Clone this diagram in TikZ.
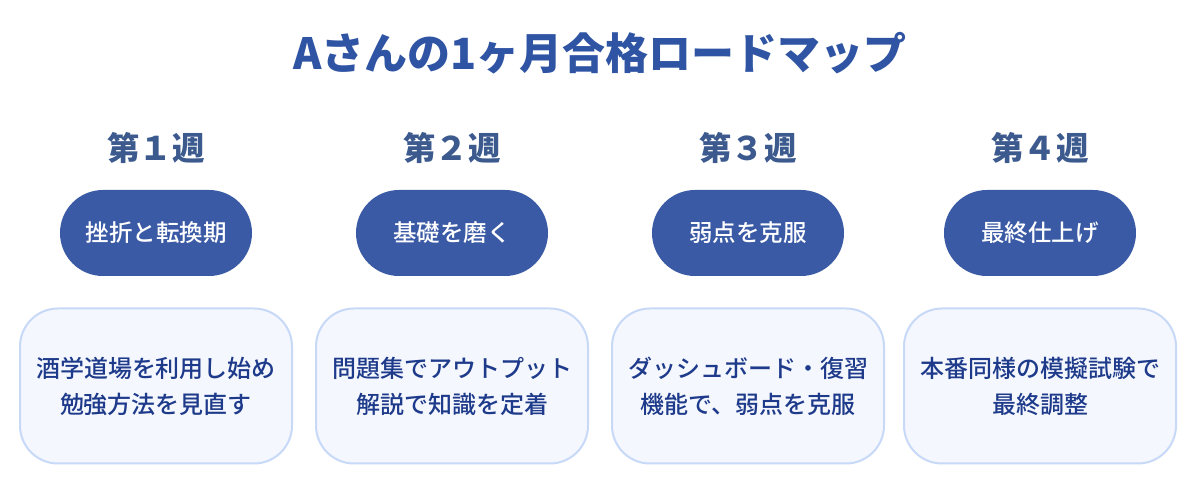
\documentclass[tikz,border=0pt]{standalone}
\usepackage{fontspec}
\setmainfont{Noto Sans CJK JP}
\newfontfamily\cjkmed{Noto Sans CJK JP Medium}
\usetikzlibrary{positioning}
\definecolor{titleblue}{HTML}{2F54A3}
\definecolor{weekblue}{HTML}{3C5A8E}
\definecolor{pillblue}{HTML}{3A5AA5}
\definecolor{cardfill}{HTML}{F4F7FE}
\definecolor{cardline}{HTML}{C8D9F8}
\definecolor{cardtext}{HTML}{1E3A8A}
\begin{document}
\begin{tikzpicture}[x=1pt,y=-1pt,
  titletext/.style={text=titleblue,font=\fontsize{43}{48}\selectfont\bfseries},
  weektext/.style={text=weekblue,font=\fontsize{32.5}{36}\selectfont\bfseries},
  pill/.style={fill=pillblue,text=white,minimum width=192pt,minimum height=86pt,rounded corners=43pt,font=\fontsize{23.5}{26}\selectfont\cjkmed},
  card/.style={fill=cardfill,draw=cardline,line width=2pt,minimum width=272pt,minimum height=155pt,rounded corners=38pt,align=center,text=cardtext,font=\fontsize{24}{36}\selectfont\cjkmed}]
\useasboundingbox[fill=white] (0,0) rectangle (1200,502);
\node[titletext] (T) at (600,53) {Aさんの1ヶ月合格ロードマップ};
\foreach\x/\n/\w/\p/\a/\b in {156/1/１/挫折と転換期/酒学道場を利用し始め/勉強方法を見直す,
  452/2/２/基礎を磨く/問題集でアウトプット/解説で知識を定着,
  748/3/３/弱点を克服/ダッシュボード・復習/機能で、弱点を克服,
  1040/4/４/最終仕上げ/本番同様の模擬試験で/最終調整} {
\node[weektext] (W\n) at (\x,148) {第\w 週};
\node[pill] (P\n) at (\x,233) {\p};
\node[card] (C\n) at (\x,386) {\a\\\b};}
\end{tikzpicture}
\end{document}
